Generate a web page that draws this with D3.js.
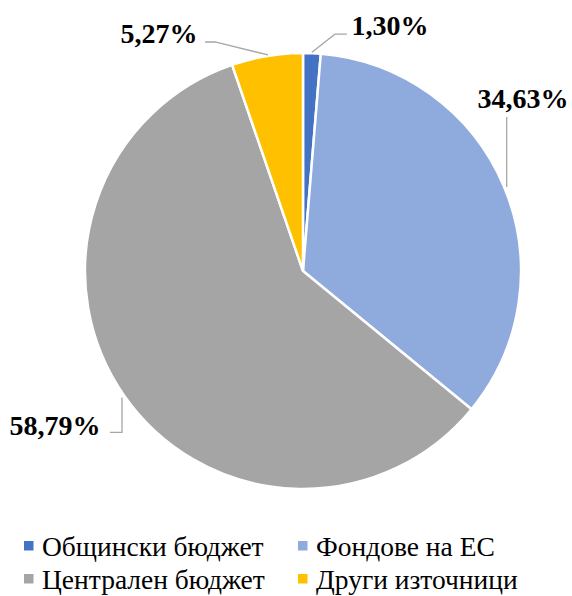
<!DOCTYPE html>
<html>
<head>
<meta charset="utf-8">
<script src="https://cdn.jsdelivr.net/npm/d3@7"></script>
<style>
  body { margin: 0; background: #fff; }
  svg text { font-family: "Times New Roman", "Liberation Serif", FreeSerif, serif !important; }
</style>
</head>
<body>
<script>
var width = 572;
var height = 596;

// data
var categories = ["Общински бюджет", "Фондове на ЕС", "Централен бюджет", "Други източници"];
var values = [1.30, 34.63, 58.79, 5.27];
var labels = ["1,30%", "34,63%", "58,79%", "5,27%"];
var colors = ["#4472C4", "#8FAADC", "#A5A5A5", "#FFC000"];

var cx = 303, cy = 271, radius = 218;

var svg = d3.select("body").append("svg")
    .attr("width", width)
    .attr("height", height);

var pie = d3.pie().sort(null).value(function(d) { return d; });
var arcs = pie(values);
var arc = d3.arc().innerRadius(0).outerRadius(radius);

var g = svg.append("g")
    .attr("transform", "translate(" + cx + "," + cy + ")");

g.selectAll("path")
    .data(arcs)
  .enter().append("path")
    .attr("d", arc)
    .attr("fill", function(d, i) { return colors[i]; })
    .attr("stroke", "#fff")
    .attr("stroke-width", 2.5);

// label placement, leader line offsets from slice edge point
var labelPos = [
  {x: 390, y: 35, line: [[0, -1], [23, -19], [35, -19]]},
  {x: 523, y: 108, line: [[3, 1], [3, -69]]},
  {x: 55, y: 435, line: [[-2, 2], [-2, 37], [-14, 37]]},
  {x: 159, y: 43, line: [[1, -1], [-52, -14], [-62, -14]]}
];

function edgePoint(d) {
  var a = (d.startAngle + d.endAngle) / 2;
  return [cx + radius * Math.sin(a), cy - radius * Math.cos(a)];
}

var lineGen = d3.line();
arcs.forEach(function(d, i) {
  var p = edgePoint(d);
  var pts = labelPos[i].line.map(function(q) { return [p[0] + q[0], p[1] + q[1]]; });
  svg.append("path")
      .attr("d", lineGen(pts))
      .attr("fill", "none")
      .attr("stroke", "#A6A6A6")
      .attr("stroke-width", 1.3);
  svg.append("text")
      .attr("x", labelPos[i].x)
      .attr("y", labelPos[i].y)
      .attr("text-anchor", "middle")
      .attr("font-weight", "bold")
      .attr("font-size", 28)
      .text(labels[i]);
});

// legend
var legendCols = [24, 298];
var legendRows = [556, 589];
categories.forEach(function(c, i) {
  var lx = legendCols[i % 2], ly = legendRows[Math.floor(i / 2)];
  svg.append("rect")
      .attr("x", lx)
      .attr("y", ly - 15)
      .attr("width", 9.5)
      .attr("height", 9.5)
      .attr("fill", colors[i]);
  svg.append("text")
      .attr("x", lx + 18)
      .attr("y", ly)
      .attr("font-size", 27.5)
      .text(c);
});
</script>
</body>
</html>
